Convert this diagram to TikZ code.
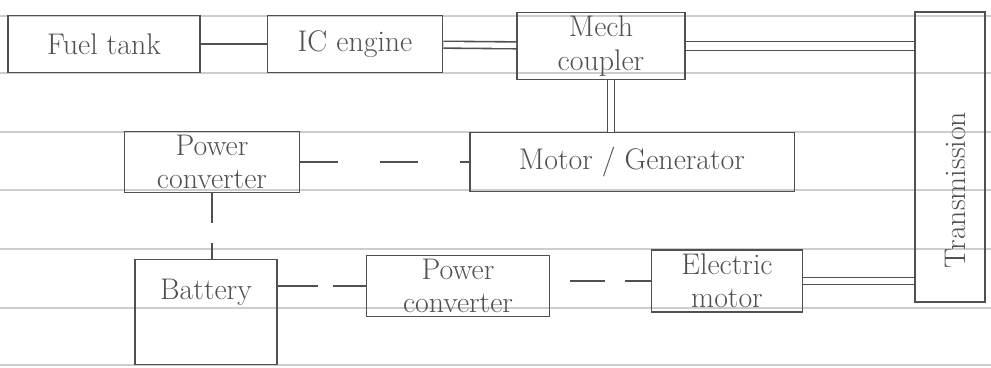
\documentclass[tikz,border=0pt]{standalone}
\usepackage{graphicx}
\usetikzlibrary{positioning,calc}

\definecolor{pen}{RGB}{80,80,80}
\definecolor{rule}{RGB}{205,205,205}

\tikzset{
	blk/.style={draw=pen, line width=1.1pt, inner sep=2pt, align=center, text=pen},
	mechlink/.style={draw=pen, line width=0.9pt, double, double distance=3pt},
	shaftlink/.style={draw=pen, line width=1pt},
	elink/.style={draw=pen, line width=1pt, dash pattern=on 0.75cm off 0.85cm}
}

\begin{document}
\begin{tikzpicture}[
		x=0.02cm,y=-0.02cm,
		every node/.style={font=\fontsize{17}{19}\selectfont}
		]
		
		\useasboundingbox (0,0) rectangle (991,368);
		
		% ruled paper
		\foreach \yy in {16,73,132,190,249,308,365}
		\draw[rule, line width=0.6pt] (0,\yy) -- (991,\yy);
		
		% =========================
		% top row: engine path
		% =========================
		\node[blk, minimum width=3.84cm, minimum height=1.14cm] (fuel) at (104,44) {Fuel tank};
		\node[blk, minimum width=3.5cm, minimum height=1.14cm] (ice) at (355,44) {IC engine};
		\node[blk, minimum width=3.36cm, minimum height=1.26cm] (mech) at (601,46) {Mech\\coupler};
		
		% transmission
		\node[blk, minimum width=1.4cm, minimum height=5.8cm] (trans) at (950,157) {};
		\node[rotate=90, text=pen] (translbl) at (955,190) {Transmission};
		
		% =========================
		% middle row
		% =========================
		\node[blk, minimum width=3.5cm, minimum height=1.2cm] (pcA) at (212,162) {Power\\converter};
		\node[blk, minimum width=6.5cm, minimum height=1.18cm] (mg) at (632,162) {Motor / Generator};
		
		% =========================
		% bottom row: electric path
		% =========================
		\node[blk, minimum width=2.84cm, minimum height=2.1cm, text depth=0.9cm] (bat) at (206,312) {Battery};
		\node[blk, minimum width=3.66cm, minimum height=1.18cm] (pcB) at (458,286) {Power\\converter};
		\node[blk, minimum width=3.02cm, minimum height=1.16cm] (em) at (727,281) {Electric\\motor};
		
		% connectors
		\draw[shaftlink] (fuel) -- (ice);
		\draw[mechlink] (ice) -- (mech);
		\draw[mechlink, double distance=4pt] (mech.east) -- (mech.east -| trans.west);
		\draw[mechlink] ([xshift=0.2cm]mech.south) -- ([xshift=0.2cm]mech.south |- mg.north);
		\draw[mechlink] (em.east) -- (em.east -| trans.west);
		
		\draw[elink] (pcA) -- (mg);
		\draw[elink, dash pattern=on 0.6cm off 0.4cm] (pcA) -- (pcA |- bat.north);
		\draw[elink, dash pattern=on 0.8cm off 0.3cm] (bat.east |- pcB) -- (pcB);
		\draw[elink, dash pattern=on 0.7cm off 0.4cm, dash phase=-0.4cm] (pcB.east |- em) -- (em);
		
	\end{tikzpicture}
\end{document}
